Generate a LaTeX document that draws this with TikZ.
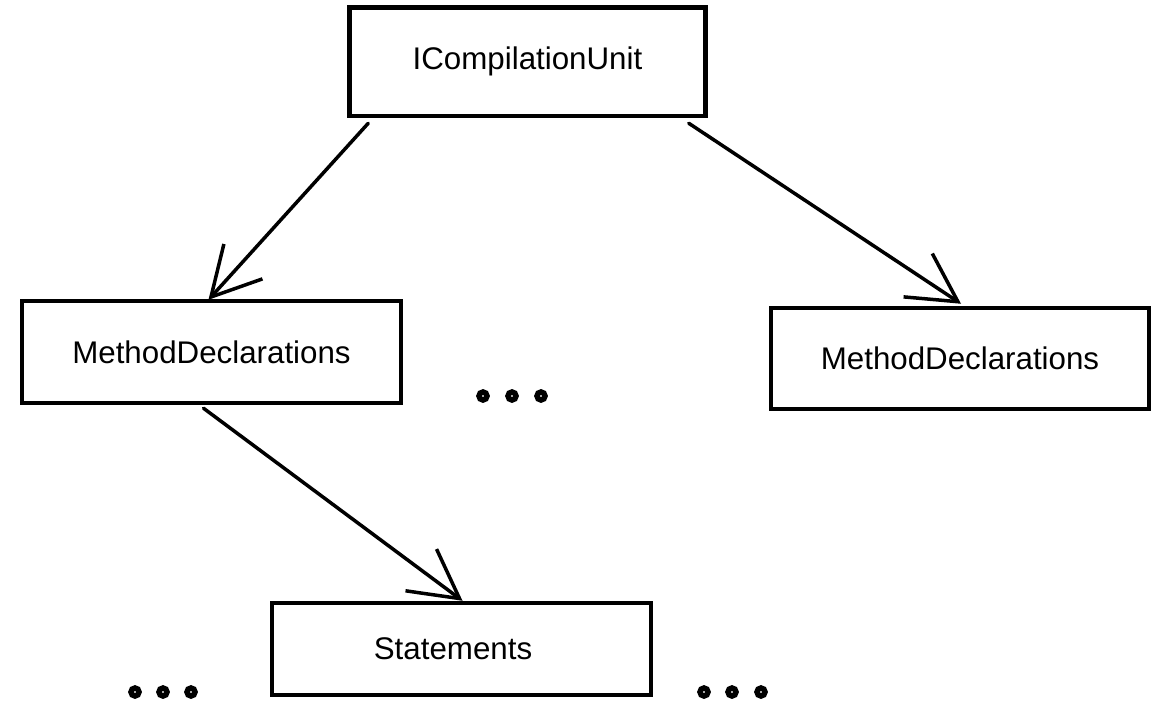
\documentclass[tikz,border=0pt]{standalone}
\usepackage{fontspec}
\setmainfont{Liberation Sans}
\usetikzlibrary{arrows.meta,calc}
\begin{document}
\begin{tikzpicture}[x=1pt,y=-1pt,
  box/.style={draw=black,line width=4.5pt,rectangle,inner sep=0pt,fill=white,
    font=\fontsize{31.3}{36}\selectfont},
  conn/.style={line width=3.5pt,line cap=round,-{Straight Barb[length=48pt,width=52pt,line width=3.5pt]}},
  dot/.style={circle,draw=black,line width=5.5pt,minimum size=8pt,inner sep=0pt}]
\useasboundingbox[fill=white] (0,0) rectangle (1172,714);
\node[box,minimum width=356pt,minimum height=108.5pt] (icu) at (527.5,61.75) {\raisebox{-3pt}{ICompilationUnit}};
\node[box,minimum width=379pt,minimum height=102pt] (mdl) at (211.5,352) {MethodDeclarations};
\node[box,minimum width=378pt,minimum height=101pt] (mdr) at (960,358.5) {MethodDeclarations};
\node[box,minimum width=379pt,minimum height=92pt,text width=379pt,align=center] (st) at (461.5,649) {\hspace*{-17pt}\raisebox{-2pt}{Statements}};
\coordinate (a1) at ([xshift=21pt,yshift=-5pt]icu.south west);
\coordinate (a2) at ([xshift=-3pt,yshift=-1pt]mdl.north);
\coordinate (b1) at ([xshift=-19pt,yshift=-5pt]icu.south east);
\coordinate (b2) at ([xshift=1pt,yshift=2pt]mdr.north);
\coordinate (c1) at ([xshift=-8pt,yshift=-3pt]mdl.south);
\coordinate (c2) at ([xshift=1pt,yshift=0pt]st.north);
\draw[conn] (a1) -- (a2);
\draw[conn] (b1) -- (b2);
\draw[conn] (c1) -- (c2);
\node[dot] (d1) at (483,396) {};
\node[dot] (d2) at (512,396) {};
\node[dot] (d3) at (541,396) {};
\node[dot] (d4) at (135,692) {};
\node[dot] (d5) at (163,692) {};
\node[dot] (d6) at (191,692) {};
\node[dot] (d7) at (704,692) {};
\node[dot] (d8) at (732,692) {};
\node[dot] (d9) at (761,692) {};
\end{tikzpicture}
\end{document}
